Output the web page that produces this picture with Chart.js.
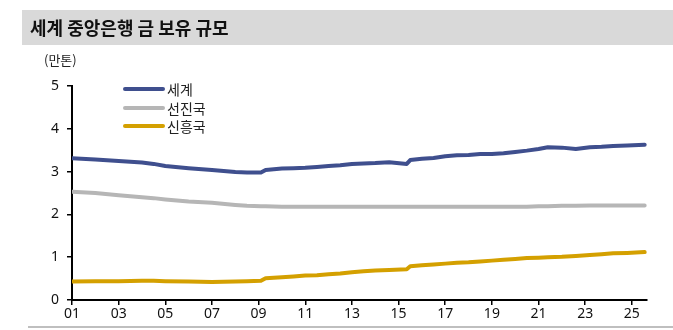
<!DOCTYPE html>
<html>
<head>
<meta charset="utf-8">
<script src="https://cdn.jsdelivr.net/npm/chart.js@4"></script>
<style>
  body { margin: 0; width: 673px; height: 330px; background: #fff; position: relative; overflow: hidden; font-family: "Noto Sans CJK KR", sans-serif; }
  #title { position: absolute; left: 22px; top: 10px; width: 651px; height: 35px; background: #d9d9d9; }
  #title span { position: absolute; left: 8px; top: 4px; font-size: 18px; font-weight: 700; color: #111; }
  #unit { position: absolute; left: 44px; top: 50px; font-size: 13px; color: #222; }
  #legend { position: absolute; left: 123px; top: 80px; }
  .item { height: 18.5px; display: flex; align-items: center; font-size: 14px; color: #222; }
  .item i { display: inline-block; width: 42px; height: 4px; border-radius: 2px; margin-right: 2px; }
  #bottom { position: absolute; left: 28px; top: 326px; width: 645px; height: 2px; background: #bfbfbf; }
  #wrap { position: absolute; left: 0; top: 0; width: 673px; height: 330px; }
</style>
</head>
<body>
<div id="wrap"><canvas id="chart"></canvas></div>
<div id="title"><span>세계 중앙은행 금 보유 규모</span></div>
<div id="unit">(만톤)</div>
<div id="legend"></div>
<div id="bottom"></div>
<script>
// 연도(소수) 기준 시점
const years = [2001.0, 2002.0, 2003.0, 2004.0, 2004.5, 2005.0, 2006.0, 2007.0, 2008.0, 2008.5,
  2009.1, 2009.3, 2010.0, 2010.5, 2011.0, 2011.5, 2012.0, 2012.5, 2013.0, 2013.5,
  2014.0, 2014.6, 2015.35, 2015.5, 2016.0, 2016.5, 2017.0, 2017.5, 2018.0, 2018.5,
  2019.0, 2019.5, 2020.0, 2020.5, 2021.0, 2021.4, 2022.0, 2022.6, 2023.2, 2023.7,
  2024.2, 2024.8, 2025.55];

const world = [3.31, 3.28, 3.25, 3.21, 3.18, 3.13, 3.08, 3.04, 2.99, 2.98,
  2.98, 3.04, 3.07, 3.08, 3.09, 3.11, 3.13, 3.15, 3.18, 3.19,
  3.20, 3.22, 3.18, 3.27, 3.30, 3.32, 3.36, 3.38, 3.39, 3.41,
  3.41, 3.43, 3.46, 3.49, 3.53, 3.57, 3.56, 3.53, 3.57, 3.58,
  3.60, 3.61, 3.63];

const advanced = [2.53, 2.50, 2.45, 2.40, 2.38, 2.35, 2.30, 2.27, 2.22, 2.20,
  2.19, 2.19, 2.18, 2.18, 2.18, 2.18, 2.18, 2.18, 2.18, 2.18,
  2.18, 2.18, 2.18, 2.18, 2.18, 2.18, 2.18, 2.18, 2.18, 2.18,
  2.18, 2.18, 2.18, 2.18, 2.19, 2.19, 2.20, 2.20, 2.21, 2.21,
  2.21, 2.21, 2.21];

const emerging = [0.43, 0.44, 0.44, 0.45, 0.45, 0.44, 0.43, 0.42, 0.43, 0.44,
  0.45, 0.51, 0.53, 0.55, 0.57, 0.58, 0.60, 0.62, 0.65, 0.67,
  0.69, 0.70, 0.72, 0.79, 0.81, 0.83, 0.85, 0.87, 0.88, 0.90,
  0.92, 0.94, 0.96, 0.98, 0.99, 1.00, 1.01, 1.03, 1.05, 1.07,
  1.09, 1.10, 1.12];

const seriesNames = ['세계', '선진국', '신흥국'];
const seriesColors = ['#3f4f8e', '#b6b6b6', '#d4a000'];
const xTicks = [2001, 2003, 2005, 2007, 2009, 2011, 2013, 2015, 2017, 2019, 2021, 2023, 2025];
const yTicks = [0, 1, 2, 3, 4, 5];

const toPoints = vals => vals.map((v, i) => ({ x: years[i], y: v }));
const allSeries = [world, advanced, emerging];

// 범례
const legend = document.getElementById('legend');
seriesNames.forEach((name, i) => {
  const row = document.createElement('div');
  row.className = 'item';
  row.innerHTML = '<i style="background:' + seriesColors[i] + '"></i>' + name;
  legend.appendChild(row);
});

const tickFont = { family: '"Noto Sans", sans-serif', size: 14 };

new Chart(document.getElementById('chart'), {
  type: 'line',
  data: {
    datasets: allSeries.map((vals, i) => ({
      label: seriesNames[i],
      data: toPoints(vals),
      borderColor: seriesColors[i],
      borderWidth: 4,
      pointRadius: 0,
      tension: 0,
      borderCapStyle: 'round',
      borderJoinStyle: 'round'
    }))
  },
  options: {
    responsive: true,
    maintainAspectRatio: false,
    animation: false,
    layout: { padding: { top: 86, right: 26, left: 0, bottom: 0 } },
    plugins: { legend: { display: false }, tooltip: { enabled: false } },
    scales: {
      x: {
        type: 'linear',
        min: 2001,
        max: 2025.65,
        afterBuildTicks: axis => { axis.ticks = xTicks.map(v => ({ value: v })); },
        afterFit: scale => { scale.height = 30; },
        ticks: {
          color: '#111',
          font: tickFont,
          maxRotation: 0,
          autoSkip: false,
          padding: 1,
          callback: v => String(v % 100).padStart(2, '0')
        },
        grid: { display: true, drawOnChartArea: false, drawTicks: true, tickLength: 5, color: '#000', lineWidth: 1.5 },
        border: { color: '#000', width: 2 }
      },
      y: {
        min: 0,
        max: 5,
        afterBuildTicks: axis => { axis.ticks = yTicks.map(v => ({ value: v })); },
        afterFit: scale => { scale.width = 72; },
        ticks: { color: '#111', font: tickFont, padding: 8 },
        grid: { display: true, drawOnChartArea: false, drawTicks: true, tickLength: 5, color: '#000', lineWidth: 1.5 },
        border: { color: '#000', width: 2 }
      }
    }
  }
});
</script>
</body>
</html>
